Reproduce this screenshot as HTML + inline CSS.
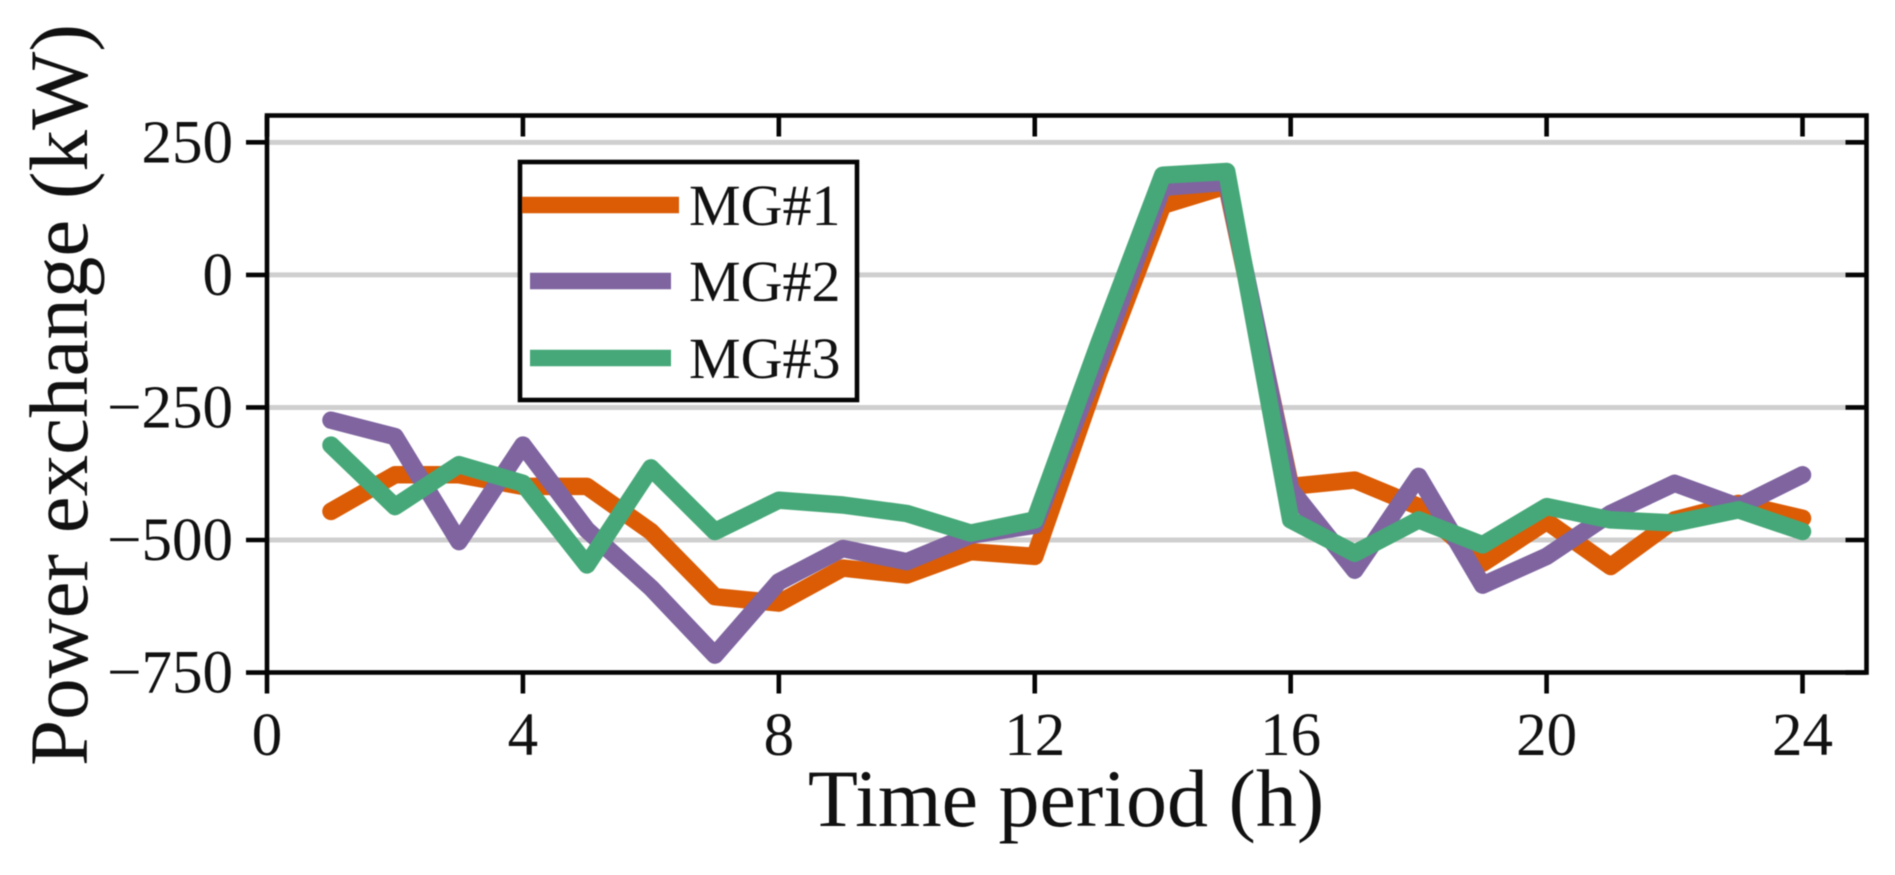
<!DOCTYPE html>
<html lang="en">
<head>
<meta charset="utf-8">
<title>Power exchange chart</title>
<style>
html,body{margin:0;padding:0;background:#fff;width:1895px;height:875px;overflow:hidden}
svg{display:block;filter:blur(0.6px)}
text{font-family:"Liberation Serif",serif;fill:#111}
</style>
</head>
<body>
<svg id="chart" xmlns="http://www.w3.org/2000/svg" width="1895" height="875" viewBox="0 0 1895 875"></svg>
<script>
const hours = [1,2,3,4,5,6,7,8,9,10,11,12,13,14,15,16,17,18,19,20,21,22,23,24];
const mg1Values = [-446,-377,-377,-399,-399,-484,-607,-619,-553,-566,-522,-531,-185,131,168,-399,-387,-437,-544,-465,-550,-462,-431,-459];
const mg2Values = [-274,-305,-503,-321,-481,-590,-717,-579,-516,-541,-491,-472,-165,165,175,-405,-557,-380,-585,-531,-450,-393,-437,-377];
const mg3Values = [-321,-437,-358,-393,-547,-364,-484,-425,-434,-450,-487,-462,-130,188,195,-462,-525,-462,-509,-437,-462,-468,-443,-484];
const seriesNames = ["MG#1","MG#2","MG#3"];
const xTicks = [0,4,8,12,16,20,24];
const yTicks = [250,0,-250,-500,-750];

const NS = "http://www.w3.org/2000/svg";
const svg = document.getElementById("chart");
const L = 267, R = 1866.5, T = 115.5, B = 672.5;
const xScale = h => L + (h / 25) * (R - L);
const yScale = v => 274.9 - (v / 250) * 132.55;

function make(tag, attrs, text) {
  const el = document.createElementNS(NS, tag);
  for (const k in attrs) el.setAttribute(k, attrs[k]);
  if (text !== undefined) el.textContent = text;
  svg.appendChild(el);
  return el;
}
function segment(x1, y1, x2, y2, stroke, width) {
  return make("line", {x1, y1, x2, y2, stroke, "stroke-width": width});
}

make("rect", {x: 0, y: 0, width: 1895, height: 875, fill: "#fff"});

yTicks.forEach(v => {
  if (v === -750) return;
  const g = segment(L, yScale(v), R, yScale(v), "#cfcfcf", 5);
  
  
});

const colors = ["#DB5C05", "#7F64A0", "#46A878"];
[mg1Values, mg2Values, mg3Values].forEach((vals, i) => {
  const pts = vals.map((v, j) => xScale(hours[j]).toFixed(1) + "," + yScale(v).toFixed(1)).join(" ");
  const line = make("polyline", {points: pts, fill: "none", stroke: colors[i], "stroke-width": 17.5, "stroke-linejoin": "round", "stroke-linecap": "round"});
  
  
});

const frame = make("rect", {x: L, y: T, width: R - L, height: B - T, fill: "none", stroke: "#050505", "stroke-width": 4.6});



xTicks.forEach(h => {
  const x = xScale(h);
  const tb = segment(x, B, x, B + 21, "#050505", 4.6);
  
  
  const tt = segment(x, T, x, T + 21, "#050505", 4.6);
  
  
  const lab = make("text", {x: x, y: 755, "font-size": 61, "text-anchor": "middle"}, String(h));
  
  
});

yTicks.forEach(v => {
  const y = yScale(v);
  const tl = segment(L - 21, y, L, y, "#050505", 4.6);
  
  
  const tr = segment(R - 21, y, R, y, "#050505", 4.6);
  
  
  const lab = make("text", {x: 233, y: y + 20, "font-size": 61, "text-anchor": "end"}, (v < 0 ? "\u2212" + (-v) : String(v)));
  
  
});

const legendBox = make("rect", {x: 520, y: 162, width: 337, height: 238, fill: "#fff", stroke: "#050505", "stroke-width": 4.6});



const legendY = [205, 281, 358];
const legendX1 = [522, 530, 530];
const legendX2 = [679, 671, 671];
seriesNames.forEach((name, i) => {
  const sw = segment(legendX1[i], legendY[i], legendX2[i], legendY[i], colors[i], 16.5);
  
  
  const lab = make("text", {x: 689, y: legendY[i] + 20, "font-size": 58}, name);
  
  
});

const xTitle = make("text", {x: 1066, y: 826, "font-size": 82, "text-anchor": "middle"}, "Time period (h)");



const yTitle = make("text", {x: 0, y: 0, "font-size": 83, "text-anchor": "middle", transform: "translate(87 395) rotate(-90)"}, "Power exchange (kW)");


</script>
</body>
</html>
